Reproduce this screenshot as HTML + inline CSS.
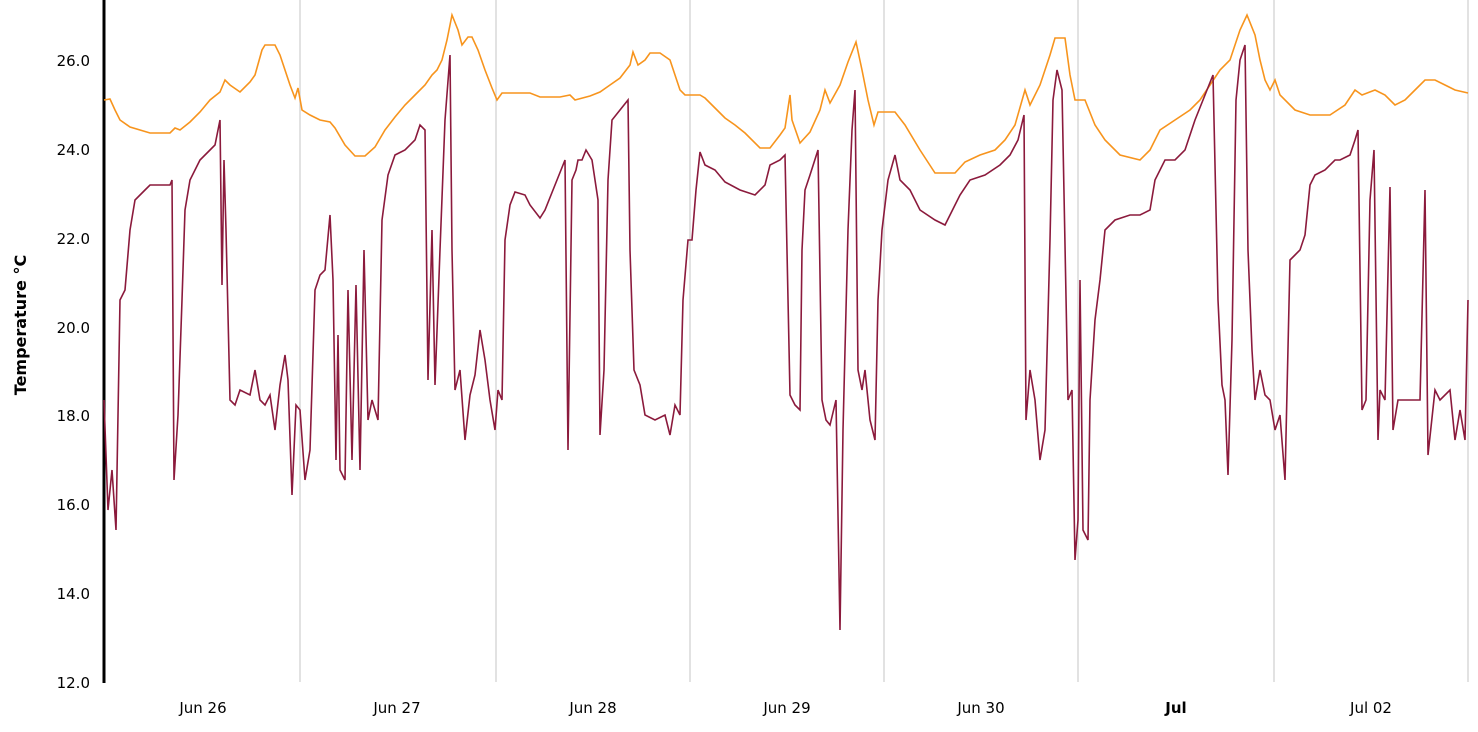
<!DOCTYPE html>
<html><head><meta charset="utf-8"><style>
html,body{margin:0;padding:0;background:#fff;}
svg text{font-family:"DejaVu Sans","Liberation Sans",sans-serif;font-size:15px;fill:#000;}
</style></head><body>
<svg width="1478" height="727" xmlns="http://www.w3.org/2000/svg">
<g stroke="#d9d9d9" stroke-width="1.5">
<line x1="300" y1="0" x2="300" y2="682"/><line x1="496" y1="0" x2="496" y2="682"/>
<line x1="690" y1="0" x2="690" y2="682"/><line x1="884" y1="0" x2="884" y2="682"/>
<line x1="1078" y1="0" x2="1078" y2="682"/><line x1="1274" y1="0" x2="1274" y2="682"/>
<line x1="1468" y1="0" x2="1468" y2="682"/>
</g>
<line x1="104" y1="0" x2="104" y2="683" stroke="#000" stroke-width="3"/>
<g text-anchor="end">
<text x="90" y="66">26.0</text><text x="90" y="155">24.0</text><text x="90" y="244">22.0</text>
<text x="90" y="333">20.0</text><text x="90" y="421">18.0</text><text x="90" y="510">16.0</text>
<text x="90" y="599">14.0</text><text x="90" y="688">12.0</text>
</g>
<text transform="translate(26,325) rotate(-90)" text-anchor="middle" font-weight="bold" style="font-weight:bold;font-size:16px">Temperature °C</text>
<g text-anchor="middle">
<text x="203" y="713">Jun 26</text><text x="397" y="713">Jun 27</text><text x="593" y="713">Jun 28</text>
<text x="787" y="713">Jun 29</text><text x="981" y="713">Jun 30</text>
<text x="1176" y="713" style="font-weight:bold">Jul</text><text x="1371" y="713">Jul 02</text>
</g>
<polyline fill="none" stroke="#f7941d" stroke-width="1.6" points="104,100 110,99 115,110 120,120 130,127 150,133 170,133 175,128 180,130 190,122 200,112 210,100 220,92 225,80 230,85 240,92 250,82 255,75 262,50 265,45 275,45 280,55 285,70 290,85 295,98 298,88 302,110 310,115 320,120 330,122 335,128 345,145 355,156 365,156 375,147 385,130 395,117 405,105 415,95 425,85 432,75 437,70 442,60 447,40 452,15 458,30 462,45 468,37 472,37 478,50 485,70 492,88 497,100 502,93 510,93 530,93 540,97 560,97 570,95 575,100 590,96 600,92 610,85 620,78 630,65 633,52 638,65 645,60 650,53 660,53 670,60 680,90 685,95 700,95 705,98 715,108 725,118 735,125 745,133 760,148 770,148 780,135 785,128 790,95 792,120 800,143 810,132 820,110 825,90 830,103 840,85 848,62 856,42 862,70 868,100 874,125 878,112 895,112 905,125 920,150 935,173 955,173 965,162 980,155 995,150 1005,140 1015,125 1025,90 1030,105 1040,85 1050,55 1055,38 1065,38 1070,75 1075,100 1085,100 1095,125 1105,140 1120,155 1140,160 1150,150 1160,130 1175,120 1190,110 1200,100 1210,85 1220,70 1230,60 1240,30 1247,15 1255,35 1260,60 1265,80 1270,90 1275,80 1280,95 1295,110 1310,115 1330,115 1345,105 1355,90 1362,95 1375,90 1385,95 1395,105 1405,100 1415,90 1425,80 1435,80 1445,85 1455,90 1468,93"/>
<polyline fill="none" stroke="#8b1a3c" stroke-width="1.6" points="104,400 108,510 112,470 116,530 120,300 125,290 130,230 135,200 145,190 150,185 170,185 172,180 174,480 178,415 182,300 185,210 190,180 195,170 200,160 210,150 215,145 220,120 222,285 224,160 226,230 230,400 235,405 240,390 250,395 255,370 260,400 265,405 270,395 275,430 280,385 285,355 288,380 292,495 296,405 300,410 305,480 310,450 315,290 320,275 325,270 330,215 333,280 336,460 338,335 340,470 345,480 348,290 352,460 356,285 360,470 364,250 368,420 372,400 378,420 382,220 388,175 395,155 405,150 415,140 420,125 425,130 428,380 432,230 435,385 440,250 445,120 450,55 452,250 455,390 460,370 465,440 470,395 475,375 480,330 485,360 490,400 495,430 498,390 502,400 505,240 510,205 515,192 525,195 530,205 540,218 545,210 555,185 565,160 568,450 572,180 576,170 578,160 582,160 586,150 592,160 598,200 600,435 604,370 608,180 612,120 620,110 628,100 630,250 634,370 640,385 645,415 655,420 665,415 670,435 675,405 680,415 683,300 688,240 692,240 696,190 700,152 705,165 715,170 725,182 740,190 755,195 765,185 770,165 780,160 785,155 790,395 795,405 800,410 802,250 805,190 810,175 818,150 822,400 826,420 830,425 836,400 840,630 843,430 848,230 852,130 855,90 858,370 862,390 865,370 870,420 875,440 878,300 882,230 888,180 895,155 900,180 910,190 920,210 935,220 945,225 955,205 960,195 970,180 985,175 1000,165 1010,155 1018,140 1024,115 1026,420 1030,370 1035,400 1040,460 1045,430 1050,240 1053,100 1057,70 1062,90 1068,400 1072,390 1075,560 1078,520 1080,280 1083,530 1088,540 1090,400 1095,320 1100,280 1105,230 1115,220 1130,215 1140,215 1150,210 1155,180 1165,160 1175,160 1185,150 1195,120 1205,95 1213,75 1218,300 1222,385 1225,400 1228,475 1232,340 1236,100 1240,60 1245,45 1248,250 1252,350 1255,400 1260,370 1265,395 1270,400 1275,430 1280,415 1285,480 1290,260 1295,255 1300,250 1305,235 1310,185 1315,175 1325,170 1335,160 1340,160 1350,155 1355,140 1358,130 1362,410 1366,400 1370,200 1374,150 1378,440 1380,390 1385,400 1390,187 1393,430 1398,400 1410,400 1420,400 1425,190 1428,455 1435,390 1440,400 1450,390 1455,440 1460,410 1465,440 1468,300"/>
</svg>
</body></html>
